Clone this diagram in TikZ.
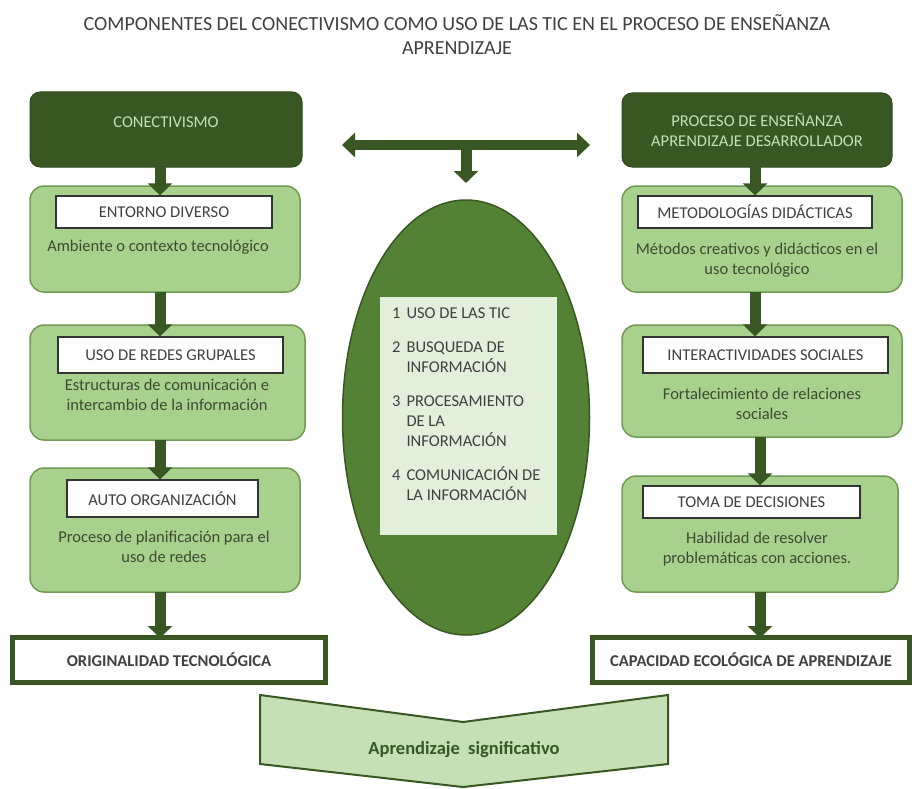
\documentclass[tikz,border=0pt]{standalone}
\usepackage{fontspec}
\setmainfont{Carlito}
\usetikzlibrary{arrows.meta,shapes.geometric}
\definecolor{dkgreen}{HTML}{385723}
\definecolor{midgreen}{HTML}{548235}
\definecolor{ltgreen}{HTML}{A9D18E}
\definecolor{paleg}{HTML}{C5E0B4}
\definecolor{palest}{HTML}{E2EFDA}
\definecolor{boxline}{HTML}{6E9A52}
\definecolor{txt}{HTML}{404040}
\definecolor{desctxt}{HTML}{3E4A33}
\tikzset{
  lblfont/.style={font=\fontsize{16.5}{20}\selectfont},
  hdr/.style={fill=dkgreen, draw=dkgreen!85!black, line width=1pt, rounded corners=10pt, inner sep=0pt},
  hdrtext/.style={text=paleg, lblfont, align=center, inner sep=0pt},
  lbox/.style={fill=ltgreen, draw=boxline, line width=1.5pt, rounded corners=14pt, inner sep=0pt},
  wbox/.style={fill=white, draw=black!80, line width=1.2pt, text=txt, lblfont, inner sep=0pt},
  desc/.style={text=desctxt, font=\fontsize{16.5}{20}\selectfont, align=center, inner sep=0pt},
  endbox/.style={fill=white, draw=dkgreen, line width=5pt, text=txt, font=\bfseries\fontsize{16.5}{20}\selectfont, inner sep=0pt},
  bigarr/.style={draw=dkgreen, line width=11pt, -{Triangle[width=24pt,length=12pt]}},
  dblarr/.style={draw=dkgreen, line width=10pt, {Triangle[width=24pt,length=13pt]}-{Triangle[width=24pt,length=13pt]}},
}
\begin{document}
\begin{tikzpicture}[x=1pt,y=-1pt]
\useasboundingbox (0,0) rectangle (915,789);
% title
\node[text=txt, font=\fontsize{20}{24}\selectfont, align=center] (title) at (457,35)
  {COMPONENTES DEL CONECTIVISMO COMO USO DE LAS TIC EN EL PROCESO DE ENSEÑANZA\\APRENDIZAJE};

% ---------- left column ----------
\node[hdr, minimum width=272pt, minimum height=75pt] (hdrL) at (166,129.5) {};
\node[hdrtext] (hdrLt) at (166,122) {CONECTIVISMO};
\node[lbox, minimum width=270pt, minimum height=106pt] (boxL1) at (165,239) {};
\node[wbox, minimum width=216pt, minimum height=32pt] (wL1) at (164,212) {ENTORNO DIVERSO};
\node[desc] (tL1) at (158,247) {Ambiente o contexto tecnológico};

\node[lbox, minimum width=275pt, minimum height=115pt] (boxL2) at (167.5,382.5) {};
\node[wbox, minimum width=225pt, minimum height=36pt] (wL2) at (170.5,355) {USO DE REDES GRUPALES};
\node[desc] (tL2) at (167,395) {Estructuras de comunicación e\\intercambio de la información};

\node[lbox, minimum width=270pt, minimum height=124pt] (boxL3) at (165,530) {};
\node[wbox, minimum width=191pt, minimum height=37pt] (wL3) at (162.5,498.5) {AUTO ORGANIZACIÓN};
\node[desc] (tL3) at (164,547) {Proceso de planificación para el\\uso de redes};

\node[endbox, minimum width=313pt, minimum height=45pt] (origL) at (169,660) {ORIGINALIDAD TECNOLÓGICA};

\draw[bigarr] (160,167) coordinate (aL0) -- (aL0 |- wL1.north);
\draw[bigarr] (160,292) coordinate (aL1) -- (aL1 |- wL2.north);
\draw[bigarr] (160,440) coordinate (aL2) -- (aL2 |- wL3.north);
\draw[bigarr] (160,592) coordinate (aL3) -- (160,638);

% ---------- right column ----------
\node[hdr, minimum width=270pt, minimum height=74pt] (hdrR) at (757,130) {};
\node[hdrtext] (hdrRt) at (757,130) {PROCESO DE ENSEÑANZA\\APRENDIZAJE DESARROLLADOR};
\node[lbox, minimum width=280pt, minimum height=106pt] (boxR1) at (762,239) {};
\node[wbox, minimum width=234pt, minimum height=32pt] (wR1) at (755,212) {METODOLOGÍAS DIDÁCTICAS};
\node[desc] (tR1) at (757,260) {Métodos creativos y didácticos en el\\uso tecnológico};

\node[lbox, minimum width=280pt, minimum height=112pt] (boxR2) at (762,381) {};
\node[wbox, minimum width=245pt, minimum height=36pt] (wR2) at (765.5,355) {INTERACTIVIDADES SOCIALES};
\node[desc] (tR2) at (762,404) {Fortalecimiento de relaciones\\sociales};

\node[lbox, minimum width=276pt, minimum height=116pt] (boxR3) at (760,534) {};
\node[wbox, minimum width=217pt, minimum height=32pt] (wR3) at (751.5,502) {TOMA DE DECISIONES};
\node[desc] (tR3) at (757,549) {Habilidad de resolver\\problemáticas con acciones.};

\node[endbox, minimum width=317pt, minimum height=45pt] (capR) at (751,660) {CAPACIDAD ECOLÓGICA DE APRENDIZAJE};

\draw[bigarr] (755,167) coordinate (aR0) -- (aR0 |- wR1.north);
\draw[bigarr] (755,292) coordinate (aR1) -- (aR1 |- wR2.north);
\draw[bigarr] (760,437) coordinate (aR2) -- (aR2 |- wR3.north);
\draw[bigarr] (760,592) coordinate (aR3) -- (760,638);

% ---------- centre ----------
\coordinate (dl) at (342,145);
\coordinate (dr) at (590,145);
\coordinate (dm) at (466,145);
\coordinate (dd) at (466,183);
\draw[dblarr] (dl) -- (dr);
\draw[bigarr] (dm) -- (dd);

\node[ellipse, fill=midgreen, draw=dkgreen, line width=1.5pt, minimum width=247pt, minimum height=435pt, inner sep=0pt] (ell) at (466,417.5) {};
\node[fill=palest, minimum width=177pt, minimum height=238pt, inner sep=0pt] (lst) at (468.5,416) {};
\node[anchor=north west, text=txt, font=\fontsize{16.5}{20}\selectfont, inner sep=0pt] (lsttxt) at (392,304)
 {\begin{tabular}{@{}l@{\hspace{6pt}}l@{}}
  1 & USO DE LAS TIC\\[14pt]
  2 & BUSQUEDA DE\\
    & INFORMACIÓN\\[14pt]
  3 & PROCESAMIENTO\\
    & DE LA\\
    & INFORMACIÓN\\[14pt]
  4 & COMUNICACIÓN DE\\
    & LA INFORMACIÓN
  \end{tabular}};

% ---------- bottom chevron ----------
\draw[fill=paleg, draw=dkgreen, line width=2pt] (260,695) -- (463,722) -- (668,695) -- (668,764) -- (463,787) -- (260,764) -- cycle;
\node[text=dkgreen, font=\bfseries\fontsize{18.5}{22}\selectfont] (chev) at (464,750) {Aprendizaje\hspace{4pt} significativo};
\end{tikzpicture}
\end{document}
